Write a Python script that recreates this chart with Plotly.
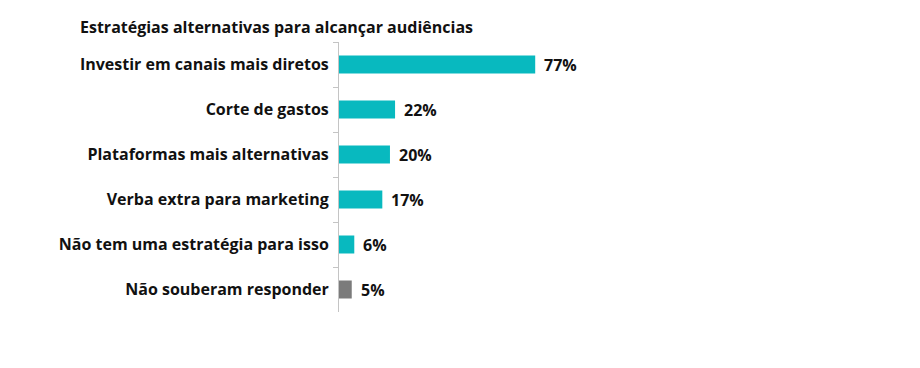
import plotly.graph_objects as go

categories = [
    "Investir em canais mais diretos",
    "Corte de gastos",
    "Plataformas mais alternativas",
    "Verba extra para marketing",
    "Não tem uma estratégia para isso",
    "Não souberam responder",
]
values = [77, 22, 20, 17, 6, 5]
labels = ["77%", "22%", "20%", "17%", "6%", "5%"]
colors = ["#08b9bf", "#08b9bf", "#08b9bf", "#08b9bf", "#08b9bf", "#7b7b7b"]
title_text = "Estratégias alternativas para alcançar audiências"

FONT = "Open Sans"
TXT = "#111111"

# page body has an 8px default margin -> figure is 912x360
W, H = 912, 360

fig = go.Figure()
fig.add_trace(go.Bar(
    y=categories,
    x=values,
    orientation="h",
    marker=dict(color=colors, line=dict(width=0)),
    width=0.4,
    hoverinfo="skip",
))

for c, v, t in zip(categories, values, labels):
    fig.add_annotation(
        x=v, y=c, xref="x", yref="y", text=f"<b>{t}</b>",
        showarrow=False, xanchor="left", yanchor="middle", xshift=7,
        font=dict(family=FONT, size=16, color=TXT),
    )

fig.update_layout(
    width=W, height=H,
    margin=dict(l=331, r=0, t=34, b=56, autoexpand=False),
    paper_bgcolor="white", plot_bgcolor="white",
    showlegend=False,
    title=dict(
        text=f"<b>{title_text}</b>",
        xref="container", yref="container",
        x=72 / W, xanchor="left",
        y=1 - 19 / H, yanchor="middle",
        font=dict(family=FONT, size=16, color=TXT),
        automargin=False,
    ),
    xaxis=dict(
        range=[0, 228], visible=False, showgrid=False, zeroline=False,
        automargin=False,
    ),
    yaxis=dict(
        autorange="reversed", automargin=False,
        showline=True, linecolor="#c4c4c4", linewidth=1,
        ticks="outside", tickson="boundaries", ticklen=5, tickcolor="#c4c4c4",
        ticklabelstandoff=6,
        tickfont=dict(family=FONT, size=16, color=TXT),
        showgrid=False,
        tickprefix="<b>", ticksuffix="</b>",
    ),
)

fig.write_html("out.html")
